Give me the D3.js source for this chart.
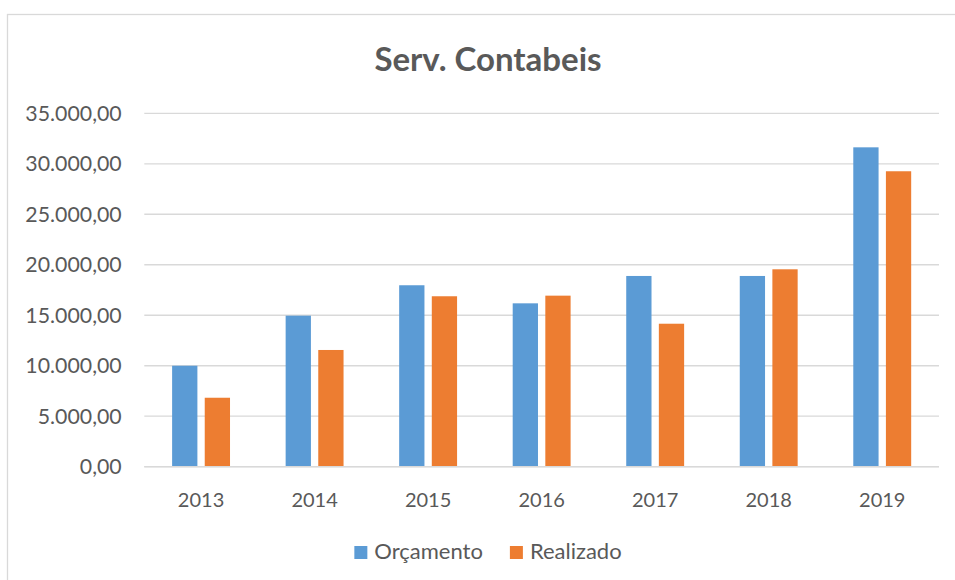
<!DOCTYPE html>
<html>
<head>
<meta charset="utf-8">
<script src="https://cdn.jsdelivr.net/npm/d3@7"></script>
<style>
  html, body { margin: 0; padding: 0; background: #fff; }
  svg { display: block; font-family: Lato, "Open Sans", sans-serif; }
</style>
</head>
<body>
<div id="chart"></div>
<script>
// data
const years = ["2013", "2014", "2015", "2016", "2017", "2018", "2019"];
const series = ["Orçamento", "Realizado"];
const orcamento = [10000, 14960, 17970, 16180, 18890, 18890, 31630];
const realizado = [6830, 11560, 16880, 16940, 14160, 19550, 29260];
const yTicks = [0, 5000, 10000, 15000, 20000, 25000, 30000, 35000];
const colors = ["#5B9BD5", "#ED7D31"];

const width = 955, height = 580;
const plot = { left: 144.3, right: 939, top: 113.3, bottom: 466.7 };
const centerX = 488;

const svg = d3.select("#chart").append("svg")
    .attr("width", width)
    .attr("height", height);

// chart area border (runs off the right and bottom edges)
svg.append("rect")
    .attr("x", 7.5).attr("y", 14.5)
    .attr("width", 970).attr("height", 600)
    .attr("fill", "#fff")
    .attr("stroke", "#d9d9d9")
    .attr("stroke-width", 1.3);

// title
svg.append("text")
    .attr("x", centerX).attr("y", 70.5)
    .attr("text-anchor", "middle")
    .style("font-size", "33px")
    .style("font-weight", "bold")
    .style("fill", "#595959")
    .text("Serv. Contabeis");

const x0 = d3.scaleBand()
    .domain(years)
    .range([plot.left, plot.right])
    .paddingInner(0.49)
    .paddingOuter(0.245);

const x1 = d3.scaleBand()
    .domain(series)
    .range([0, x0.bandwidth()])
    .paddingInner(0.225);

const y = d3.scaleLinear()
    .domain([0, 35000])
    .range([plot.bottom, plot.top]);

const fmt = v => d3.format(",.2f")(v).replace(/,/g, "#").replace(".", ",").replace(/#/g, ".");

// gridlines
svg.append("g")
    .selectAll("line")
    .data(yTicks)
    .enter()
    .append("line")
    .attr("x1", plot.left).attr("x2", plot.right)
    .attr("y1", d => y(d)).attr("y2", d => y(d))
    .attr("stroke", "#d9d9d9")
    .attr("stroke-width", 1.3);

// y axis labels
const yAxis = svg.append("g")
    .attr("transform", `translate(${plot.left - 22.6},0)`)
    .call(d3.axisLeft(y).tickValues(yTicks).tickFormat(fmt).tickSize(0).tickPadding(0));
yAxis.select(".domain").remove();
yAxis.selectAll("text")
    .style("font-family", "Lato, 'Open Sans', sans-serif")
    .style("font-size", "21.3px")
    .style("fill", "#595959");

// bars
const rows = years.map((yr, i) => ({ year: yr, values: [orcamento[i], realizado[i]] }));

const group = svg.append("g")
    .selectAll("g")
    .data(rows)
    .enter()
    .append("g")
    .attr("transform", d => `translate(${x0(d.year)},0)`);

group.selectAll("rect")
    .data(d => d.values.map((v, k) => ({ key: series[k], value: v, k: k })))
    .enter()
    .append("rect")
    .attr("x", d => x1(d.key))
    .attr("y", d => y(d.value))
    .attr("width", x1.bandwidth())
    .attr("height", d => y(0) - y(d.value))
    .attr("fill", d => colors[d.k]);

// baseline
svg.append("line")
    .attr("x1", plot.left).attr("x2", plot.right)
    .attr("y1", y(0)).attr("y2", y(0))
    .attr("stroke", "#d9d9d9")
    .attr("stroke-width", 1.5);

// x axis labels
const xAxis = svg.append("g")
    .attr("transform", `translate(0,${plot.bottom})`)
    .call(d3.axisBottom(x0).tickSize(0).tickPadding(0));
xAxis.select(".domain").remove();
xAxis.selectAll("text")
    .attr("dy", 0)
    .attr("y", 40)
    .style("font-family", "Lato, 'Open Sans', sans-serif")
    .style("font-size", "20px")
    .style("fill", "#595959");

// legend
const legend = svg.append("g");
const items = legend.selectAll("g")
    .data(series)
    .enter()
    .append("g");
items.append("rect")
    .attr("width", 13).attr("height", 13)
    .attr("y", 546)
    .attr("fill", (d, i) => colors[i]);
items.append("text")
    .attr("x", 20).attr("y", 559.3)
    .style("font-size", "22px")
    .style("fill", "#595959")
    .text(d => d);

let offs = 0;
const gap = 27;
items.each(function () {
    const w = 20 + this.querySelector("text").getComputedTextLength();
    d3.select(this).attr("data-o", offs);
    offs += w + gap;
});
const total = offs - gap;
items.attr("transform", function () {
    return `translate(${centerX - total / 2 + (+this.getAttribute("data-o"))},0)`;
});
</script>
</body>
</html>
